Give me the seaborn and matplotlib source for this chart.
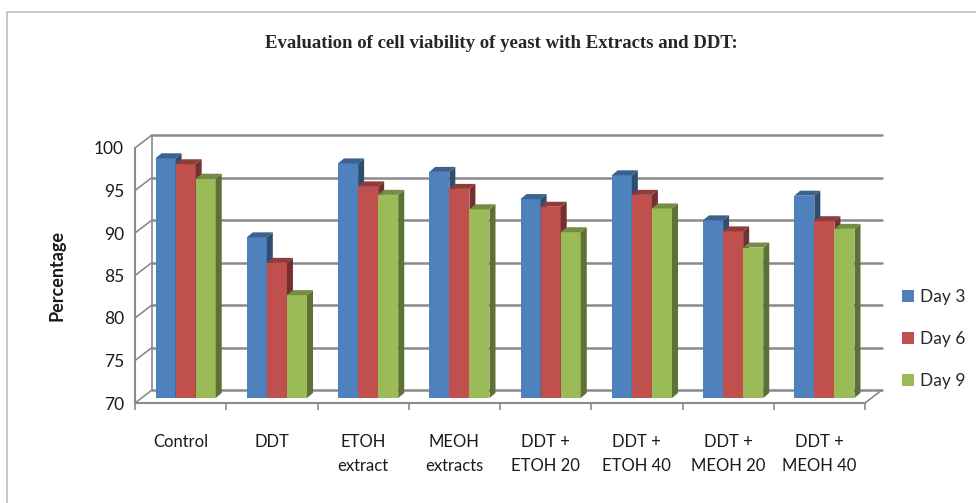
import numpy as np
import pandas as pd
import matplotlib
matplotlib.use("Agg")
import matplotlib.pyplot as plt
import seaborn as sns
from matplotlib.patches import Polygon, Rectangle, Patch

# data
categories = ["Control", "DDT", "ETOH\nextract", "MEOH\nextracts",
              "DDT +\nETOH 20", "DDT +\nETOH 40", "DDT +\nMEOH 20", "DDT +\nMEOH 40"]
days = ["Day 3", "Day 6", "Day 9"]
day3 = [98.2, 88.9, 97.6, 96.6, 93.4, 96.2, 90.9, 93.8]
day6 = [97.5, 85.9, 94.9, 94.6, 92.5, 93.9, 89.6, 90.8]
day9 = [95.8, 82.1, 93.9, 92.2, 89.5, 92.3, 87.7, 89.9]
yticks = [70, 75, 80, 85, 90, 95, 100]

colors = ["#4F81BD", "#C0504D", "#9BBB59"]
grid_c = "#8A8A8A"

df = pd.DataFrame({
    "treatment": categories * 3,
    "day": np.repeat(days, len(categories)),
    "value": day3 + day6 + day9,
})

sns.set_theme(style="white")
plt.rcParams["font.family"] = ["Lato", "DejaVu Sans"]

fig = plt.figure(figsize=(9.76, 5.03), dpi=100)
ax = fig.add_axes([135 / 976, 1 - 403 / 503, 730 / 976, 255 / 503])

sns.barplot(data=df, x="treatment", y="value", hue="day", palette=colors,
            width=0.66, saturation=1, linewidth=0, errorbar=None,
            legend=False, ax=ax)
ax.set_xlim(-0.5, len(categories) - 0.5)
ax.set_ylim(70, 100)

# data units per pixel
p0 = ax.transData.transform((0, 70))
p1 = ax.transData.transform((1, 71))
ux = 1 / (p1[0] - p0[0])
uy = 1 / (p1[1] - p0[1])

x_lo, x_hi = -0.5, len(categories) - 0.5
bx, by = 17 * ux, 13 * uy   # back wall offset
mx, my = 5 * ux, 5 * uy     # bar plane offset
dx, dy = 6 * ux, 5 * uy     # bar depth

# back wall + left wall
for t in yticks:
    ax.plot([x_lo + bx, x_hi + bx], [t + by, t + by], color=grid_c, lw=1.8,
            clip_on=False, zorder=1)
    ax.plot([x_lo, x_lo + bx], [t, t + by], color=grid_c, lw=1.2,
            clip_on=False, zorder=1)
ax.plot([x_lo + bx] * 2, [70 + by, 100 + by], color=grid_c, lw=1.2,
        clip_on=False, zorder=1)
ax.plot([x_hi, x_hi + bx], [70, 70 + by], color=grid_c, lw=1.2,
        clip_on=False, zorder=1)

# 3d look for the bars
bars = sorted([p for p in ax.patches if isinstance(p, Rectangle)],
              key=lambda p: p.get_x())
for i, p in enumerate(bars):
    rank = i % 3
    top = p.get_height()
    x0 = p.get_x() + mx
    w = p.get_width()
    yb, yt = 70 + my, top + my
    p.set_x(x0)
    p.set_y(yb)
    p.set_height(top - 70)
    p.set_clip_on(False)
    z = 3 + rank * 0.3
    p.set_zorder(z)
    fc = np.array(p.get_facecolor()[:3])
    side = Polygon([(x0 + w, yb), (x0 + w + dx, yb + dy), (x0 + w + dx, yt + dy), (x0 + w, yt)],
                   closed=True, facecolor=fc * 0.6, edgecolor="none", zorder=z + 0.1,
                   clip_on=False)
    cap = Polygon([(x0, yt), (x0 + w, yt), (x0 + w + dx, yt + dy), (x0 + dx, yt + dy)],
                  closed=True, facecolor=fc * 0.75, edgecolor="none", zorder=z + 0.1,
                  clip_on=False)
    ax.add_patch(side)
    ax.add_patch(cap)

# axes styling
for s in ["top", "right"]:
    ax.spines[s].set_visible(False)
for s in ["left", "bottom"]:
    ax.spines[s].set_color(grid_c)
    ax.spines[s].set_linewidth(1.5)

ax.set_yticks(yticks)
ax.tick_params(axis="y", length=5, width=1.2, color=grid_c, labelsize=12.5,
               pad=3, labelcolor="#1a1a1a")
ax.set_xticks(range(len(categories)))
ax.set_xticklabels(categories, linespacing=1.65, va="top")
ax.set_xticks(np.arange(x_lo, x_hi + 0.1, 1), minor=True)
ax.tick_params(axis="x", which="major", length=0, labelsize=12, pad=22,
               labelcolor="#1a1a1a")
ax.tick_params(axis="x", which="minor", length=5, width=1.2, color=grid_c,
               bottom=True)
ax.set_xlabel("")
ax.set_ylabel("Percentage", fontsize=13, fontweight="bold", color="#1a1a1a")
ax.yaxis.set_label_coords(-0.095, 0.5)

handles = [Patch(facecolor=c, edgecolor="none") for c in colors]
fig.legend(handles, days, loc="upper left",
           bbox_to_anchor=(902 / 976, 1 - 289 / 503), frameon=False,
           fontsize=12.5, handlelength=0.7, handleheight=0.7,
           handletextpad=0.35, labelspacing=1.5, borderpad=0,
           borderaxespad=0)

fig.text(501 / 976, 1 - 44 / 503,
         "Evaluation of cell viability of yeast with Extracts and DDT:",
         ha="center", va="center", fontsize=13.5, fontweight="bold",
         family="Liberation Serif")

fig.add_artist(Rectangle((7 / 976, -0.1), 1.2, 1.1 - 12 / 503,
                         transform=fig.transFigure, fill=False,
                         edgecolor="#BDBDBD", lw=1.2))

fig.savefig("out.png", dpi=100)
